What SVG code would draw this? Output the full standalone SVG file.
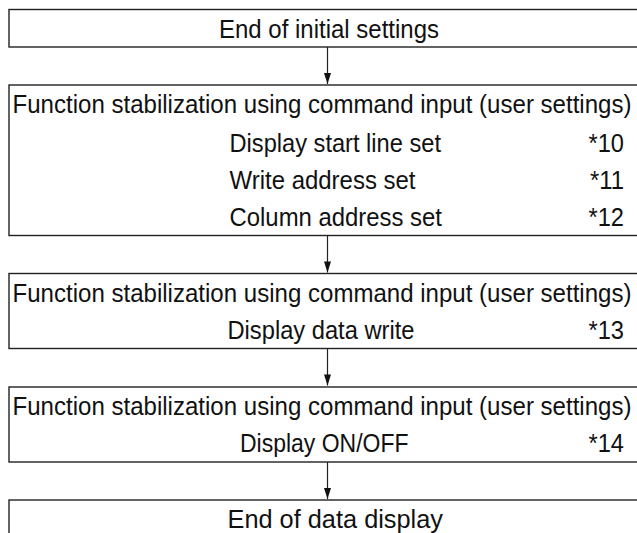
<svg xmlns="http://www.w3.org/2000/svg" width="637" height="533" viewBox="0 0 637 533">
<style>
.box{fill:#fff;stroke:#222;stroke-width:1.4}
.t{font-family:"Liberation Sans",Arial,sans-serif;font-size:25px;fill:#111}
.e{text-anchor:end}
.c{stroke:#222;stroke-width:1.2;fill:none}
</style>
<rect width="637" height="533" fill="#fff"/>
<g id="connectors">
<line class="c" x1="327.5" y1="47" x2="327.5" y2="84"/>
<path d="M324,73 L331,73 L327.5,84 Z" fill="#111"/>
<line class="c" x1="327.5" y1="235.5" x2="327.5" y2="272.5"/>
<path d="M324,261.5 L331,261.5 L327.5,272.5 Z" fill="#111"/>
<line class="c" x1="327.5" y1="348.5" x2="327.5" y2="385.5"/>
<path d="M324,374.5 L331,374.5 L327.5,385.5 Z" fill="#111"/>
<line class="c" x1="327.5" y1="462" x2="327.5" y2="499"/>
<path d="M324,488 L331,488 L327.5,499 Z" fill="#111"/>
</g>
<g id="n1">
<rect class="box" x="9" y="9.5" width="640" height="37.5"/>
<text class="t" x="219" y="38" textLength="220" lengthAdjust="spacingAndGlyphs">End of initial settings</text>
</g>
<g id="n2">
<rect class="box" x="9" y="85" width="640" height="150.5"/>
<text class="t" x="12.5" y="112.5" textLength="619" lengthAdjust="spacingAndGlyphs">Function stabilization using command input (user settings)</text>
<text class="t" x="229.5" y="151.5" textLength="211.5" lengthAdjust="spacingAndGlyphs">Display start line set</text>
<text class="t e" x="624" y="151.5" textLength="35.5" lengthAdjust="spacingAndGlyphs">*10</text>
<text class="t" x="229.5" y="188.5" textLength="186" lengthAdjust="spacingAndGlyphs">Write address set</text>
<text class="t e" x="624" y="188.5" textLength="34" lengthAdjust="spacingAndGlyphs">*11</text>
<text class="t" x="229.5" y="225.5" textLength="212.5" lengthAdjust="spacingAndGlyphs">Column address set</text>
<text class="t e" x="624" y="225.5" textLength="35.5" lengthAdjust="spacingAndGlyphs">*12</text>
</g>
<g id="n3">
<rect class="box" x="9" y="273.5" width="640" height="75"/>
<text class="t" x="12.5" y="301.5" textLength="619" lengthAdjust="spacingAndGlyphs">Function stabilization using command input (user settings)</text>
<text class="t" x="227.5" y="338.5" textLength="187" lengthAdjust="spacingAndGlyphs">Display data write</text>
<text class="t e" x="624" y="338.5" textLength="35.5" lengthAdjust="spacingAndGlyphs">*13</text>
</g>
<g id="n4">
<rect class="box" x="9" y="387" width="640" height="75"/>
<text class="t" x="12.5" y="414.5" textLength="619" lengthAdjust="spacingAndGlyphs">Function stabilization using command input (user settings)</text>
<text class="t" x="240" y="451.5" textLength="168.5" lengthAdjust="spacingAndGlyphs">Display ON/OFF</text>
<text class="t e" x="624" y="451.5" textLength="35.5" lengthAdjust="spacingAndGlyphs">*14</text>
</g>
<g id="n5">
<rect class="box" x="9" y="500" width="640" height="60"/>
<text class="t" x="227.5" y="528" textLength="215.5" lengthAdjust="spacingAndGlyphs">End of data display</text>
</g>
</svg>
